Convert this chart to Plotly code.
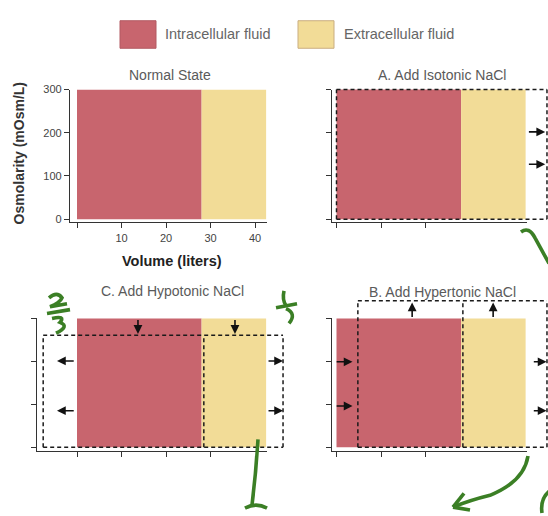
import re
import plotly.graph_objects as go

W, H = 548, 516

# ---------------- data ----------------
fluids = ["Intracellular fluid", "Extracellular fluid"]
fluid_colors = ["#c8656e", "#f2dc97"]
normal_volume = [28, 14.5]          # liters: ICF, ECF
normal_osmolarity = [300, 300]      # mOsm/L
y_ticks = [0, 100, 200, 300]
y_tick_labels = ["0", "100", "200", "300"]
x_ticks = [0, 10, 20, 30, 40]
x_tick_labels = ["", "10", "20", "30", "40"]
panel_titles = ["Normal State", "A. Add Isotonic NaCl",
                "C. Add Hypotonic NaCl", "B. Add Hypertonic NaCl"]

# new states (dashed outlines): compartment boundaries (liters) and osmolarity
isotonic_bounds = [0, 47.3]
isotonic_osm = 300
hypotonic_bounds = [-7.6, 28.5, 46.3]
hypotonic_osm = 261
hypertonic_bounds = [4.8, 28.4, 47.3]
hypertonic_osm = 341

# arrows: tail x, tail y, head x, head y
iso_arrows = dict(x0=[42.9, 42.9], y0=[202, 127], x1=[46.9, 46.9], y1=[202, 127])
hypo_arrows = dict(x0=[-0.4, -0.4, 42.7, 42.7, 13.7, 35.5],
                   y0=[201, 85, 201, 85, 300, 300],
                   x1=[-4.5, -4.5, 46.3, 46.3, 13.7, 35.5],
                   y1=[201, 85, 201, 85, 264, 264])
hyper_arrows = dict(x0=[-0.3, -0.3, 44.0, 44.0, 17.0, 35.2],
                    y0=[199, 96, 199, 85, 300, 300],
                    x1=[3.6, 3.6, 47.2, 47.2, 17.0, 35.2],
                    y1=[199, 96, 199, 85, 337, 337])

# ---------------- layout geometry (pixels) ----------------
XS = 4.45                      # px per liter
YS_TOP = (217 - 85) / 300      # px per mOsm/L, top row
YS_BOT = (449 - 318) / 300     # bottom row


def xdom(p0, p1):
    return [p0 / W, p1 / W]


def ydom(ptop, pbot):
    return [1 - pbot / H, 1 - ptop / H]


def xr(p0, p1, origin):
    return [(p0 - origin) / XS, (p1 - origin) / XS]


def yr(ptop, pbot, origin, s):
    return [(origin - pbot) / s, (origin - ptop) / s]


def px(x):
    return x / W


def py(y):
    return 1 - y / H


FONT = "Liberation Sans, Arial, sans-serif"
AXC = "#333333"
TXT = "#555555"

fig = go.Figure()

panel_axes = [("x", "y"), ("x2", "y2"), ("x3", "y3"), ("x4", "y4")]
starts = [0, normal_volume[0]]
for xa, ya in panel_axes:
    fig.add_trace(go.Bar(
        x=starts, y=normal_osmolarity, width=normal_volume, offset=0,
        marker=dict(color=fluid_colors, line=dict(width=0)),
        xaxis=xa, yaxis=ya, showlegend=False, hoverinfo="skip"))

for xa, ya in [("x5", "y5"), ("x6", "y6"), ("x7", "y7")]:
    fig.add_trace(go.Scatter(x=[None], y=[None], xaxis=xa, yaxis=ya,
                             showlegend=False, hoverinfo="skip"))

hidden = dict(visible=False, showgrid=False, zeroline=False)
frame = dict(showgrid=False, zeroline=False, showline=True, linecolor=AXC,
             linewidth=1.3, ticks="outside", ticklen=5, tickwidth=1.2,
             tickcolor=AXC, showticklabels=False)

lay = dict(
    width=W, height=H, margin=dict(l=0, r=0, t=0, b=0),
    paper_bgcolor="white", plot_bgcolor="rgba(0,0,0,0)",
    showlegend=False, barmode="overlay",
    font=dict(family=FONT, color=TXT),
    xaxis=dict(frame, domain=xdom(70, 267), range=xr(70, 267, 77), anchor="y",
               tickvals=x_ticks, ticktext=x_tick_labels, showticklabels=True,
               tickfont=dict(size=11, color="#444")),
    yaxis=dict(frame, domain=ydom(85, 220), range=yr(85, 220, 217, YS_TOP), anchor="x",
               tickvals=y_ticks, ticktext=y_tick_labels, showticklabels=True,
               tickfont=dict(size=11, color="#444")),
    xaxis2=dict(hidden, domain=xdom(332, 548), range=xr(332, 548, 336.5), anchor="y2"),
    yaxis2=dict(hidden, domain=ydom(78, 220), range=yr(78, 220, 217, YS_TOP), anchor="x2"),
    xaxis3=dict(hidden, domain=xdom(37, 292), range=xr(37, 292, 77), anchor="y3"),
    yaxis3=dict(hidden, domain=ydom(310, 453), range=yr(310, 453, 449, YS_BOT), anchor="x3"),
    xaxis4=dict(hidden, domain=xdom(332, 548), range=xr(332, 548, 336.5), anchor="y4"),
    yaxis4=dict(hidden, domain=ydom(295, 453), range=yr(295, 453, 449, YS_BOT), anchor="x4"),
    xaxis5=dict(frame, domain=xdom(332, 527), range=xr(332, 527, 336.5), anchor="y5",
                tickvals=x_ticks[:3]),
    yaxis5=dict(frame, domain=ydom(85, 220), range=yr(85, 220, 217, YS_TOP), anchor="x5",
                tickvals=y_ticks),
    xaxis6=dict(frame, domain=xdom(37, 267), range=xr(37, 267, 77), anchor="y6",
                tickvals=x_ticks[:4]),
    yaxis6=dict(frame, domain=ydom(318, 453), range=yr(318, 453, 449, YS_BOT), anchor="x6",
                tickvals=y_ticks),
    xaxis7=dict(frame, domain=xdom(332, 527), range=xr(332, 527, 336.5), anchor="y7",
                tickvals=x_ticks[:3]),
    yaxis7=dict(frame, domain=ydom(318, 453), range=yr(318, 453, 449, YS_BOT), anchor="x7",
                tickvals=y_ticks),
)
fig.update_layout(**lay)

shapes = []
DASH = dict(color="#1a1a1a", width=1.5, dash="4px,3px")


def dline(xa, ya, x0, y0, x1, y1):
    shapes.append(dict(type="line", xref=xa, yref=ya, x0=x0, y0=y0, x1=x1, y1=y1,
                       line=DASH, layer="above"))


l, r = isotonic_bounds
dline("x2", "y2", l, isotonic_osm, r, isotonic_osm)
dline("x2", "y2", l, 0, r, 0)
dline("x2", "y2", l, 0, l, isotonic_osm)
dline("x2", "y2", r, 0, r, isotonic_osm)

l, m, r = hypotonic_bounds
dline("x3", "y3", l, hypotonic_osm, r, hypotonic_osm)
dline("x3", "y3", l, 0, r, 0)
for xv in (l, m, r):
    dline("x3", "y3", xv, 0, xv, hypotonic_osm)

l, m, r = hypertonic_bounds
dline("x4", "y4", l, hypertonic_osm, r, hypertonic_osm)
dline("x4", "y4", l, 0, r, 0)
for xv in (l, m, r):
    dline("x4", "y4", xv, 0, xv, hypertonic_osm)

for i, (x0, x1) in enumerate([(120, 156), (298, 334)]):
    shapes.append(dict(type="rect", xref="paper", yref="paper",
                       x0=px(x0), x1=px(x1), y0=py(43), y1=py(15),
                       fillcolor=fluid_colors[i],
                       line=dict(color="#c9ad80" if i else "#b25a63", width=1)))

GREEN = "#3b7f25"
green_paths = [
    "M521,230 Q529,224 535,236 Q542,249 549,262",
    "M49,297 Q57,290 62,297 Q60,302 50,306 L67,303",
    "M47,313 L70,309",
    "M52,318 Q66,315 60,322 Q70,326 56,333",
    "M284,290 Q282,299 286,305",
    "M276,307 L297,303",
    "M286,308 Q297,313 289,323",
    "M258,441 Q256,475 252,508",
    "M245,511 Q256,505 267,511",
    "M528,458 Q524,484 490,498 Q470,503 453,510",
    "M453,510 L464,496",
    "M453,510 L470,513",
    "M549,494 Q540,502 542,516",
]


def to_paper(path):
    return re.sub(r"(-?\d+\.?\d*),(-?\d+\.?\d*)",
                  lambda mm: f"{px(float(mm.group(1))):.5f},{py(float(mm.group(2))):.5f}",
                  path)


for p in green_paths:
    shapes.append(dict(type="path", xref="paper", yref="paper", path=to_paper(p),
                       line=dict(color=GREEN, width=3.6), layer="above"))

fig.update_layout(shapes=shapes)

ann = []


def arrows(xa, ya, d):
    for x0, y0, x1, y1 in zip(d["x0"], d["y0"], d["x1"], d["y1"]):
        ann.append(dict(xref=xa, yref=ya, axref=xa, ayref=ya, x=x1, y=y1, ax=x0, ay=y0,
                        text="", showarrow=True, arrowhead=2, arrowsize=1.1,
                        arrowwidth=1.6, arrowcolor="#111"))


arrows("x2", "y2", iso_arrows)
arrows("x3", "y3", hypo_arrows)
arrows("x4", "y4", hyper_arrows)

for t, (cx, cy) in zip(panel_titles, [(170, 70), (442, 70), (172, 290), (442, 291)]):
    ann.append(dict(xref="paper", yref="paper", x=px(cx), y=py(cy), text=t,
                    showarrow=False, xanchor="center", yanchor="middle",
                    font=dict(size=14, color="#5a5a5a")))

ann.append(dict(xref="paper", yref="paper", x=px(19), y=py(150),
                text="Osmolarity (mOsm/L)", textangle=-90, showarrow=False,
                xanchor="center", yanchor="middle",
                font=dict(size=14, color="#333", weight="bold")))
ann.append(dict(xref="paper", yref="paper", x=px(172), y=py(260),
                text="<b>Volume (liters)</b>", showarrow=False,
                xanchor="center", yanchor="middle",
                font=dict(size=14.5, color="#222")))

for name, x0 in zip(fluids, [163, 342]):
    ann.append(dict(xref="paper", yref="paper", x=px(x0), y=py(29), text=name,
                    showarrow=False, xanchor="left", yanchor="middle",
                    font=dict(size=14.5, color="#666")))

fig.update_layout(annotations=ann)
fig.write_html("out.html", config={"displayModeBar": False},
               post_script="document.body.style.margin='0';document.body.style.overflow='hidden';")
